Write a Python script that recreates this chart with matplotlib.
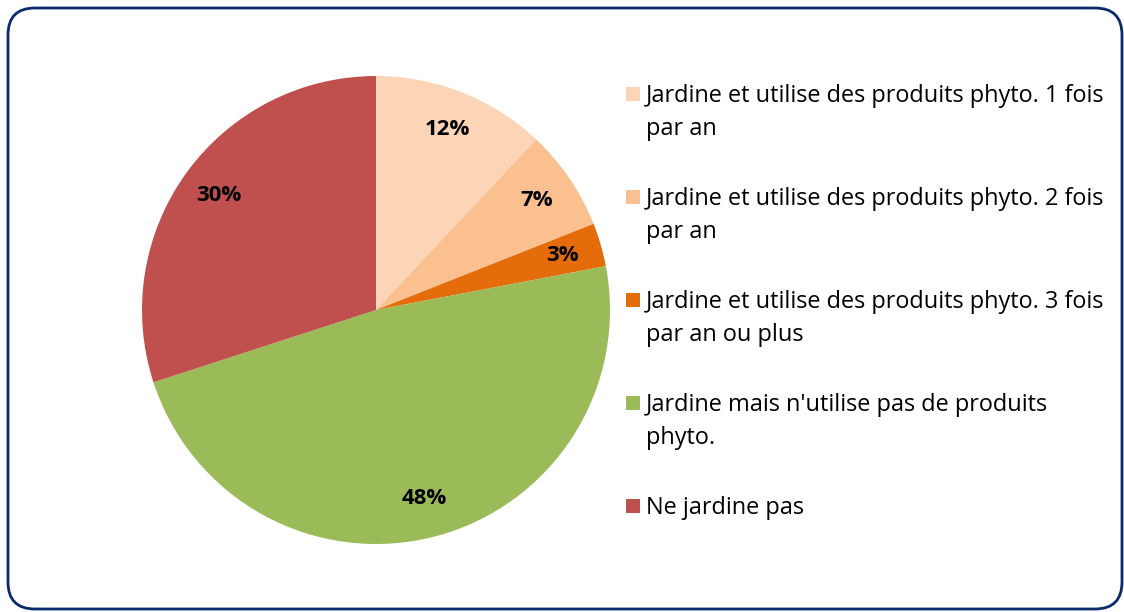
import matplotlib
matplotlib.use("Agg")
import matplotlib.pyplot as plt
from matplotlib.patches import FancyBboxPatch, Rectangle

# data
labels = [["Jardine et utilise des produits phyto. 1 fois", "par an"],
          ["Jardine et utilise des produits phyto. 2 fois", "par an"],
          ["Jardine et utilise des produits phyto. 3 fois", "par an ou plus"],
          ["Jardine mais n'utilise pas de produits", "phyto."],
          ["Ne jardine pas"]]
values = [12, 7, 3, 48, 30]
colors = ["#FBD5B5", "#FAC090", "#E46C0A", "#9BBB59", "#C0504D"]

plt.rcParams['font.family'] = ['Open Sans', 'DejaVu Sans']

W, H = 1124, 612
fig = plt.figure(figsize=(W/100, H/100), dpi=100)

# rounded frame around the chart
frame = FancyBboxPatch((8/W, 3/H), 1114/W, 601/H,
                       boxstyle="round,pad=0,rounding_size=0.024",
                       transform=fig.transFigure, facecolor="none",
                       edgecolor="#0B2A6B", linewidth=2, mutation_aspect=W/H, zorder=5)
fig.patches.append(frame)

ax = fig.add_axes([142/W, (H-310-234)/H, 468/W, 468/H])
wedges, texts, autotexts = ax.pie(values, colors=colors, startangle=90, counterclock=False,
                                  autopct='%d%%', pctdistance=0.83,
                                  textprops={'fontsize': 16, 'fontweight': 'bold', 'color': 'black'})
ax.set_xlim(-1, 1)
ax.set_ylim(-1, 1)
ax.set_aspect('equal')

# legend drawn by hand so the marker sits next to the first line
for i, (lines, col) in enumerate(zip(labels, colors)):
    top = 87 + i * 103
    fig.patches.append(Rectangle((626/W, 1 - (top + 14)/H), 14/W, 14/H,
                                 transform=fig.transFigure, facecolor=col, edgecolor='none'))
    for k, line in enumerate(lines):
        base = 102 + i * 103 + k * 33
        fig.text(646/W, 1 - base/H, line, fontsize=16.9, va='baseline', ha='left', color='black')

fig.savefig("out.png", dpi=100)
